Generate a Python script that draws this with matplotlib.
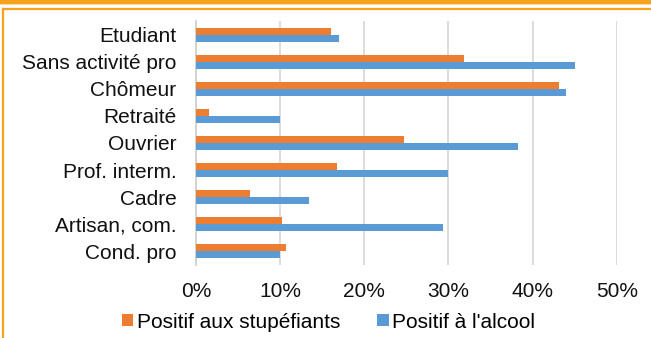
import matplotlib
matplotlib.use('Agg')
import matplotlib.pyplot as plt
from matplotlib.patches import Patch, Rectangle
from matplotlib.ticker import FuncFormatter
import numpy as np

plt.rcParams['font.family'] = ['Liberation Sans', 'DejaVu Sans']

# Share of drivers testing positive, by socio-professional category
categories = ['Etudiant', 'Sans activité pro', 'Chômeur', 'Retraité', 'Ouvrier',
              'Prof. interm.', 'Cadre', 'Artisan, com.', 'Cond. pro']
stupefiants = [16.1, 31.8, 43.1, 1.5, 24.7, 16.7, 6.4, 10.2, 10.7]
alcool = [17.0, 45.0, 44.0, 10.0, 38.3, 30.0, 13.4, 29.4, 10.0]
x_ticks = [0, 10, 20, 30, 40, 50]
legend_labels = ['Positif aux stupéfiants', "Positif à l'alcool"]

ORANGE = '#ED7D31'
BLUE = '#5B9BD5'
FRAME = '#F7A21B'
FS = 15

fig = plt.figure(figsize=(6.51, 3.38), dpi=100)
fig.patch.set_facecolor('white')

# orange frame around the chart (left and top edges visible), plus strip of the box above
fig.patches.append(Rectangle((0, 1 - 3.5 / 338), 1, 3.5 / 338, transform=fig.transFigure,
                             facecolor=FRAME, edgecolor='none', zorder=0))
fig.patches.append(Rectangle((0, 1 - 5 / 338), 1, 1.5 / 338, transform=fig.transFigure,
                             facecolor='#FCD9A4', edgecolor='none', zorder=0))
fig.add_artist(plt.Line2D([2.5 / 651, 1.0], [1 - 8.5 / 338, 1 - 8.5 / 338],
                          transform=fig.transFigure, color=FRAME, linewidth=1.6))
fig.add_artist(plt.Line2D([2.5 / 651, 2.5 / 651], [0, 1 - 8.5 / 338],
                          transform=fig.transFigure, color=FRAME, linewidth=1.6))

ax = fig.add_axes([196 / 651, 1 - 265 / 338, (616.7 - 196) / 651, (265 - 21) / 338])

y = np.arange(len(categories))
h = 0.26
ax.barh(y - h / 2, stupefiants, height=h, color=ORANGE, zorder=3)
ax.barh(y + h / 2, alcool, height=h, color=BLUE, zorder=3)

ax.set_xlim(0, 50)
ax.set_ylim(len(categories) - 0.5, -0.5)
ax.set_yticks(y)
ax.set_yticklabels(categories, fontsize=FS, color='#111111')
ax.set_xticks(x_ticks)
ax.xaxis.set_major_formatter(FuncFormatter(lambda v, _: f'{v:.0f}%'))
ax.tick_params(axis='x', length=0, pad=12, labelsize=FS, labelcolor='#111111')
ax.tick_params(axis='y', length=0, pad=14)

ax.grid(axis='x', color='#D9D9D9', linewidth=1.3, zorder=0)
for side in ['top', 'right', 'bottom']:
    ax.spines[side].set_visible(False)
ax.spines['left'].set_color('#D0D0D0')
ax.spines['left'].set_linewidth(1.3)
ax.set_facecolor('white')

handles = [Patch(facecolor=ORANGE), Patch(facecolor=BLUE)]
fig.legend(handles, legend_labels, loc='center', bbox_to_anchor=(328.5 / 651, 1 - 322 / 338),
           ncol=2, frameon=False, fontsize=FS, handlelength=0.55, handleheight=0.55,
           handletextpad=0.15, columnspacing=1.8, borderaxespad=0, borderpad=0)

fig.savefig('out.png', dpi=100, facecolor='white')
